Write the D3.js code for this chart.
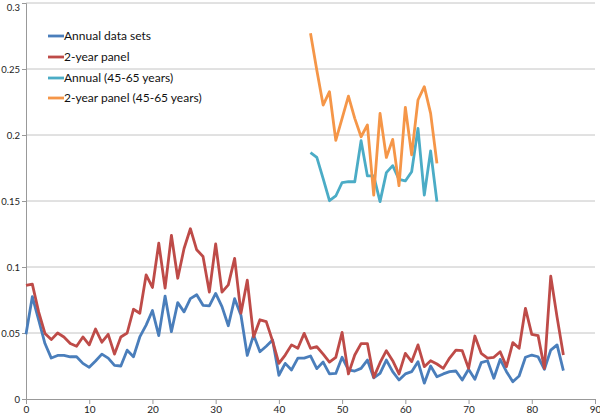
<!DOCTYPE html>
<html><head><meta charset="utf-8">
<script src="https://cdn.jsdelivr.net/npm/d3@7"></script>
<style>body{margin:0;background:#fff}svg{display:block}</style>
</head><body>
<svg id="c" width="600" height="416"></svg>
<script>
const seriesNames = ["Annual data sets", "2-year panel", "Annual (45-65 years)", "2-year panel (45-65 years)"];
const seriesColors = ["#4a7ebb", "#be4b48", "#4bacc6", "#f59648"];
const xTicks = [0, 10, 20, 30, 40, 50, 60, 70, 80, 90];
const yTicks = [0, 0.05, 0.1, 0.15, 0.2, 0.25, 0.3];
const yTickLabels = ["0", "0.05", "0.1", "0.15", "0.2", "0.25", "0.3"];
const fullStartAge = 0;
const subsetStartAge = 45;
const annual = [0.049,0.0775,0.060,0.042,0.031,0.033,0.033,0.032,0.032,0.027,
  0.024,0.0288,0.034,0.031,0.0255,0.025,0.037,0.032,0.047,0.056,
  0.067,0.048,0.078,0.051,0.073,0.066,0.076,0.079,0.071,0.0705,
  0.080,0.070,0.0555,0.076,0.0635,0.033,0.0485,0.0358,0.040,0.0447,
  0.018,0.027,0.022,0.031,0.031,0.0326,0.023,0.028,0.019,0.0194,
  0.0316,0.022,0.0212,0.0232,0.0295,0.016,0.0194,0.0295,0.0207,0.0144,
  0.019,0.0207,0.0283,0.012,0.025,0.0169,0.019,0.0207,0.0212,0.0144,
  0.0225,0.015,0.0275,0.029,0.0157,0.030,0.0207,0.0131,0.0174,0.0316,
  0.0333,0.032,0.0225,0.037,0.041,0.0215];
const panel = [0.086,0.087,0.066,0.0497,0.045,0.050,0.047,0.042,0.040,0.047,
  0.041,0.053,0.043,0.049,0.034,0.047,0.050,0.068,0.065,0.094,
  0.0845,0.118,0.084,0.124,0.0915,0.114,0.129,0.113,0.108,0.081,
  0.1175,0.081,0.0865,0.1065,0.065,0.090,0.047,0.060,0.0586,0.044,
  0.027,0.0333,0.041,0.0384,0.0497,0.0384,0.0396,0.034,0.028,0.0316,
  0.0505,0.019,0.0333,0.042,0.042,0.0164,0.0275,0.0366,0.029,0.019,
  0.0346,0.0283,0.041,0.0245,0.029,0.0265,0.0232,0.031,0.037,0.0366,
  0.0232,0.0477,0.0346,0.031,0.0316,0.0358,0.0245,0.0427,0.0384,0.0687,
  0.049,0.048,0.0232,0.093,0.062,0.0333];
const annual4565 = [0.1866,0.183,0.167,0.1502,0.1538,0.164,0.1646,0.1646,0.1957,0.169,
  0.169,0.1495,0.1715,0.1768,0.1664,0.1652,0.1722,0.205,0.1545,0.1879,0.1495];
const panel4565 = [0.277,0.249,0.2227,0.2328,0.196,0.2126,0.2295,0.2126,0.1987,0.2076,
  0.1545,0.2164,0.183,0.1967,0.1616,0.221,0.185,0.2265,0.2366,0.2164,0.1785];

const svg = d3.select("#c");
const W = 600, H = 416;
const m = {left: 26, right: 5, top: 3, bottom: 17};
const x = d3.scaleLinear().domain([0, 90]).range([m.left, W - m.right]);
const y = d3.scaleLinear().domain([0, 0.3]).range([H - m.bottom, m.top]);
const font = "Lato, 'Open Sans', sans-serif";

// gridlines
svg.append("g").selectAll("line").data(yTicks.slice(1)).join("line")
  .attr("x1", x(0)).attr("x2", x(90))
  .attr("y1", d => y(d)).attr("y2", d => y(d))
  .attr("stroke", "#c4c4c4").attr("stroke-width", 1);

// y axis
const yAxis = svg.append("g").attr("transform", `translate(${x(0)},0)`)
  .call(d3.axisLeft(y).tickValues(yTicks).tickFormat((d, i) => yTickLabels[i]).tickSize(4).tickPadding(2));
yAxis.select(".domain").attr("stroke", "#999");
yAxis.selectAll(".tick line").attr("stroke", "#999");
yAxis.selectAll("text").attr("font-family", font).attr("font-size", 9.5).attr("fill", "#222");
// keep the topmost label inside the picture
yAxis.selectAll(".tick text").filter(d => d === 0.3).attr("dy", "0.75em");

// x axis
const xAxis = svg.append("g").attr("transform", `translate(0,${y(0)})`)
  .call(d3.axisBottom(x).tickValues(xTicks).tickSize(5).tickPadding(2));
xAxis.select(".domain").attr("stroke", "#999");
xAxis.selectAll(".tick line").attr("stroke", "#999");
xAxis.selectAll("text").attr("font-family", font).attr("font-size", 10).attr("fill", "#222");

const line = d3.line().x(d => x(d[0])).y(d => y(d[1]));
const allSeries = [
  annual.map((v, i) => [fullStartAge + i, v]),
  panel.map((v, i) => [fullStartAge + i, v]),
  annual4565.map((v, i) => [subsetStartAge + i, v]),
  panel4565.map((v, i) => [subsetStartAge + i, v])
];
svg.append("g").selectAll("path").data(allSeries).join("path")
  .attr("d", line).attr("fill", "none")
  .attr("stroke", (d, i) => seriesColors[i])
  .attr("stroke-width", 2.8).attr("stroke-linejoin", "round").attr("stroke-linecap", "butt");

// legend
const lg = svg.append("g");
const ly = [36, 57, 78, 98];
seriesNames.forEach((n, i) => {
  lg.append("line").attr("x1", 48).attr("x2", 64).attr("y1", ly[i]).attr("y2", ly[i])
    .attr("stroke", seriesColors[i]).attr("stroke-width", 2.8);
  lg.append("text").attr("x", 64).attr("y", ly[i]).attr("dy", "0.35em")
    .attr("font-family", font).attr("font-size", 12).attr("fill", "#111").text(n);
});
</script>
</body></html>
